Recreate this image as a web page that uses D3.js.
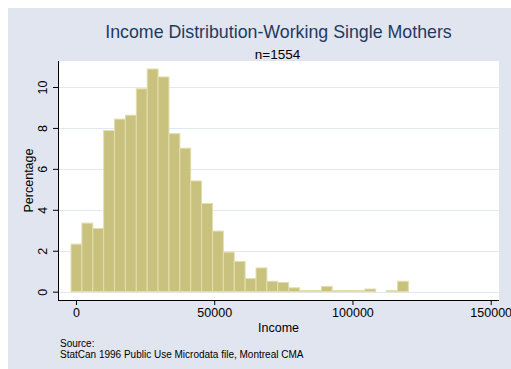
<!DOCTYPE html>
<html>
<head>
<meta charset="utf-8">
<script src="https://cdn.jsdelivr.net/npm/d3@7"></script>
<style>
  html, body { margin: 0; padding: 0; background: #ffffff; }
  svg { display: block; font-family: "Liberation Sans", Arial, sans-serif; }
</style>
</head>
<body>
<svg id="chart" width="511" height="369"></svg>
<script>
// Histogram of income, 31 equal-width bins, heights in percent of n=1554
const binStart = -1800;
const binWidth = 3936;
const percentages = [
  2.32, 3.35, 3.09, 7.87, 8.43, 8.62, 9.91, 10.88, 10.49, 7.72,
  7.01, 5.41, 4.31, 2.96, 1.93, 1.48, 0.64, 1.16, 0.51, 0.45,
  0.19, 0.06, 0.06, 0.26, 0.06, 0.06, 0.06, 0.13, 0.00, 0.06,
  0.51
];
const xTicks = [0, 50000, 100000, 150000];
const yTicks = [0, 2, 4, 6, 8, 10];

const titleText = "Income Distribution-Working Single Mothers";
const subtitleText = "n=1554";
const xLabel = "Income";
const yLabel = "Percentage";
const noteLines = ["Source:", "StatCan 1996 Public Use Microdata file, Montreal CMA"];

const bins = percentages.map((p, i) => ({
  x0: binStart + i * binWidth,
  x1: binStart + (i + 1) * binWidth,
  pct: p
}));

const svg = d3.select("#chart");
const W = 511, H = 369;
const plot = { left: 58, right: 499, top: 61, bottom: 300 };

// outer graph region
svg.append("rect")
  .attr("x", 8).attr("y", 8).attr("width", W - 8).attr("height", H - 8)
  .attr("fill", "#e1e5ef");

// plot region
svg.append("rect")
  .attr("x", plot.left).attr("y", plot.top)
  .attr("width", plot.right - plot.left).attr("height", plot.bottom - plot.top)
  .attr("fill", "#ffffff");

const x = d3.scaleLinear().domain([-6510, 153000]).range([plot.left, plot.right]);
const y = d3.scaleLinear().domain([-0.407, 11.27]).range([plot.bottom, plot.top]);

// gridlines
svg.append("g")
  .selectAll("line")
  .data(yTicks)
  .join("line")
  .attr("x1", plot.left).attr("x2", plot.right)
  .attr("y1", d => Math.round(y(d)) + 0.5).attr("y2", d => Math.round(y(d)) + 0.5)
  .attr("stroke", "#e3e7f0").attr("stroke-width", 1.2);

// bars
svg.append("g")
  .selectAll("rect")
  .data(bins.filter(b => b.pct > 0))
  .join("rect")
  .attr("x", d => x(d.x0))
  .attr("width", d => x(d.x1) - x(d.x0))
  .attr("y", d => y(d.pct))
  .attr("height", d => y(0) - y(d.pct))
  .attr("fill", "#c9c27e")
  .attr("stroke", "#e2dead")
  .attr("stroke-width", 1);

// x axis
const xAxis = d3.axisBottom(x).tickValues(xTicks).tickSize(5).tickPadding(3)
  .tickFormat(d3.format("d"));
const gx = svg.append("g")
  .attr("transform", `translate(0,${plot.bottom})`)
  .call(xAxis);
gx.select(".domain").attr("d", `M${plot.left},0.5H${plot.right}`).attr("stroke", "#000");
gx.selectAll(".tick line").attr("stroke", "#000");
gx.selectAll(".tick text")
  .attr("font-size", "12.5px")
  .attr("font-family", "Liberation Sans, Arial, sans-serif")
  .attr("fill", "#000");

// y axis
const yAxis = d3.axisLeft(y).tickValues(yTicks).tickSize(5).tickPadding(0)
  .tickFormat(d3.format("d"));
const gy = svg.append("g")
  .attr("transform", `translate(${plot.left},0)`)
  .call(yAxis);
gy.select(".domain").attr("d", `M0.5,${plot.top}V${plot.bottom}`).attr("stroke", "#000");
gy.selectAll(".tick line").attr("stroke", "#000");
gy.selectAll(".tick text")
  .attr("font-size", "12.5px")
  .attr("font-family", "Liberation Sans, Arial, sans-serif")
  .attr("fill", "#000")
  .attr("x", null).attr("dy", null)
  .attr("text-anchor", "middle")
  .attr("transform", "translate(-11,0) rotate(-90)");

// titles
svg.append("text")
  .attr("x", 278.5).attr("y", 38)
  .attr("text-anchor", "middle")
  .attr("font-size", "17.8px")
  .attr("fill", "#1f3a5f")
  .text(titleText);

svg.append("text")
  .attr("x", 277.5).attr("y", 59.3)
  .attr("text-anchor", "middle")
  .attr("font-size", "13.5px")
  .attr("fill", "#000")
  .text(subtitleText);

// axis titles
svg.append("text")
  .attr("x", 278.5).attr("y", 332)
  .attr("text-anchor", "middle")
  .attr("font-size", "12.5px")
  .attr("fill", "#000")
  .text(xLabel);

svg.append("text")
  .attr("transform", `translate(32.5,${(plot.top + plot.bottom) / 2}) rotate(-90)`)
  .attr("text-anchor", "middle")
  .attr("font-size", "12.5px")
  .attr("fill", "#000")
  .text(yLabel);

// note
svg.append("g")
  .selectAll("text")
  .data(noteLines)
  .join("text")
  .attr("x", 60)
  .attr("y", (d, i) => 346.5 + i * 11.3)
  .attr("font-size", "10px")
  .attr("fill", "#000")
  .text(d => d);
</script>
</body>
</html>
